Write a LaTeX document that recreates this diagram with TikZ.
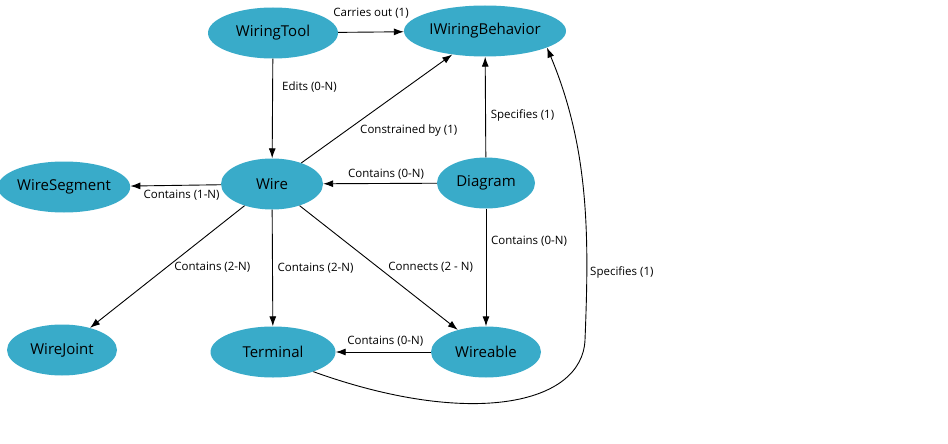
\documentclass[tikz,border=0pt]{standalone}
\usepackage{fontspec}
\setmainfont{Open Sans}
\usetikzlibrary{shapes.geometric,arrows.meta}
\definecolor{nodeblue}{RGB}{57,171,201}

\begin{document}
\begin{tikzpicture}[x=1pt,y=-1pt]
            \tikzstyle{cls}=[ellipse, fill=nodeblue, inner sep=0pt,
            minimum height=51pt, font=\fontsize{15}{17}\selectfont]
            \tikzstyle{rel}=[-{Latex[length=10pt,width=7pt]}, line width=0.9pt]
            \tikzstyle{lbl}=[font=\fontsize{11.5}{13}\selectfont, inner sep=0pt]
            \useasboundingbox (0,0) rectangle (948,444);
            \foreach \n/\x/\y/\w/\t in {tool/273/33/130/WiringTool,
              iwb/485/31/162/IWiringBehavior, seg/64/187/128/WireSegment,
              wire/272/184/102/Wire, diag/486/183/98/Diagram,
              joint/62/350/110/WireJoint, term/273/352/125/Terminal,
              wbl/486/352/110/Wireable}
            \node[cls, minimum width=\w pt] (\n) at (\x,\y) {\t};

            \draw[rel] (tool) -- node[lbl, yshift=19pt] {Carries out (1)} (iwb);
            \draw[rel] (tool) -- node[lbl, xshift=37pt, yshift=21pt] {Edits (0-N)} (wire);
            \draw[rel] (wire) -- node[lbl, xshift=32pt, yshift=-22pt] {Constrained by (1)} (iwb);
            \draw[rel] (diag) -- node[lbl, xshift=37pt, yshift=-8pt] {Specifies (1)} (iwb);
            \draw[rel] (diag) -- node[lbl, xshift=6pt, yshift=9pt] {Contains (0-N)} (wire);
            \draw[rel] (wire) -- node[lbl, xshift=6pt, yshift=-10pt] {Contains (1-N)} (seg);
            \draw[rel] (wire) -- node[lbl, xshift=45pt] {Contains (2-N)} (joint);
            \draw[rel] (wire) -- node[lbl, xshift=43pt] {Contains (2-N)} (term);
            \draw[rel] (wire) -- node[lbl, xshift=52pt, yshift=1pt] {Connects (2 - N)} (wbl);
            \draw[rel] (diag) -- node[lbl, xshift=43pt, yshift=26pt] {Contains (0-N)} (wbl);
            \draw[rel] (wbl) -- node[lbl, xshift=2pt, yshift=11pt] {Contains (0-N)} (term);

            \coordinate (bend) at (585,340);
            \draw[rel] (term.-26) .. controls (470,428) and (582,405) .. (bend)
              .. controls (589,240) and (590,150) .. (iwb.-15)
              node[lbl, pos=0.23, anchor=west, xshift=3pt] {Specifies (1)};
        \end{tikzpicture}
\end{document}
